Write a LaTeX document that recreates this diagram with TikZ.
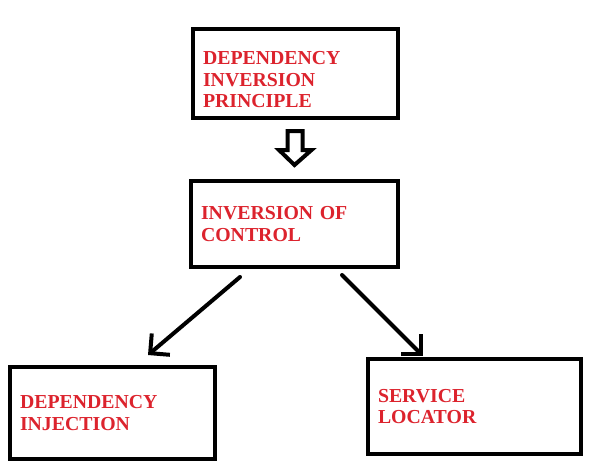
\documentclass[tikz,border=0pt]{standalone}
\usepackage{fontspec}
\setmainfont{Liberation Serif}
\usetikzlibrary{positioning, arrows.meta, calc}
\definecolor{lblred}{RGB}{220,35,45}
\tikzset{
  box/.style={draw, line width=4pt, align=left, text=lblred,
              font=\fontsize{19.8}{21.5}\selectfont\bfseries,
              inner xsep=10pt, inner ysep=0pt},
  arr/.style={line width=4pt, line cap=round,
              -{Straight Barb[length=14pt, width=28pt, line width=4pt]}},
  hollow/.style={line width=4pt, line join=miter},
}
\begin{document}
\begin{tikzpicture}[x=1pt, y=-1pt]
  \useasboundingbox (0,0) rectangle (593,475);
  % Boxes
  \node[box, text width=185pt, minimum height=89pt] (dip) at (295.5,73.5)
    {\rule{0pt}{26pt}DEPENDENCY\\INVERSION\\PRINCIPLE};
  \node[box, text width=187pt, minimum height=86pt] (ioc) at (294.5,224)
    {INVERSION OF\\CONTROL};
  \node[box, text width=185pt, minimum height=92pt] (di) at (112.5,413)
    {DEPENDENCY\\INJECTION};
  \node[box, text width=193pt, minimum height=95pt] (sl) at (474.5,406.5)
    {SERVICE\\LOCATOR};
  % Hollow arrow
  \draw[hollow] ($(dip.south)+(-8,11)$) -- ++(15,0) -- ++(0,19) -- ++(9,0)
    -- ($(ioc.north)+(0,-14)$) -- ($(dip.south)+(-16.5,30)$) -- ++(8.5,0) -- cycle;
  % Arrows
  \draw[arr] ($(ioc.south)+(-54.5,8)$) -- ($(di.north)+(35.5,-10)$);
  \draw[arr] ($(ioc.south)+(47.5,6)$) -- ($(sl.north)+(-51.5,-1)$);
\end{tikzpicture}
\end{document}
